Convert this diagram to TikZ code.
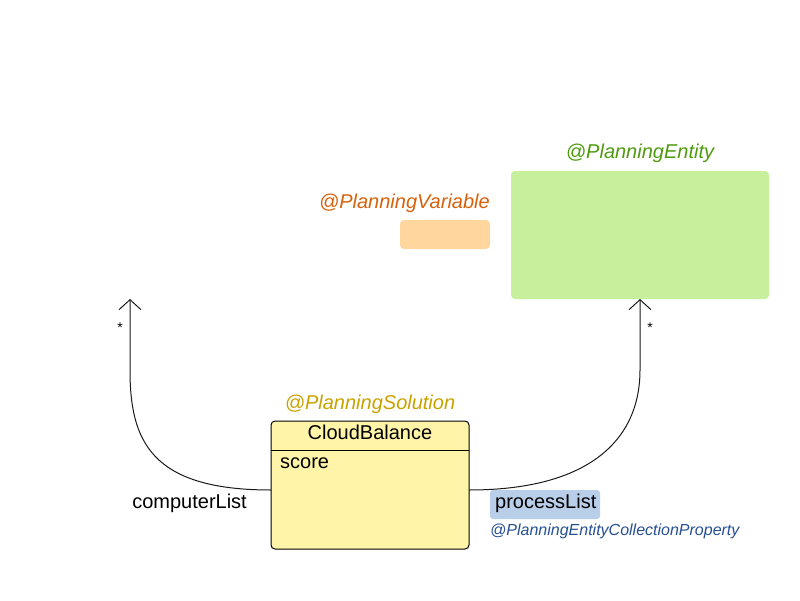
\documentclass[tikz,border=0pt]{standalone}
\usepackage{fontspec}
\setmainfont{Liberation Sans}
\usetikzlibrary{arrows.meta}
\definecolor{solfill}{HTML}{FFF4A8}
\definecolor{entfill}{HTML}{C6F09B}
\definecolor{varfill}{HTML}{FFD79E}
\definecolor{propfill}{HTML}{B9CEE8}
\definecolor{solcol}{HTML}{C9A200}
\definecolor{entcol}{HTML}{4F9A0E}
\definecolor{varcol}{HTML}{D8610B}
\definecolor{propcol}{HTML}{264F94}
\definecolor{linecol}{HTML}{1A1A1A}
\tikzset{
  lbl/.style={inner sep=0pt, font=\fontsize{20}{24}\selectfont},
  annot/.style={inner sep=0pt, font=\fontsize{20}{24}\selectfont\itshape},
  conn/.style={draw=linecol, line width=1pt, -{Straight Barb[length=10pt,width=22pt,line width=1pt]}},
  star/.style={inner sep=0pt, font=\fontsize{14}{16}\selectfont}
}
\begin{document}
\begin{tikzpicture}[x=1pt,y=-1pt]
\useasboundingbox (0,0) rectangle (800,600);
% boxes
\draw[fill=solfill, draw=black, line width=1pt, rounded corners=4pt] (271,421) rectangle (469,549);
\coordinate (solW) at (271,490);
\coordinate (solE) at (469,490);
\draw[black, line width=1pt] (271,450) -- (469,450);
\node[lbl, anchor=base] (cb) at (370,439) {CloudBalance};
\node[lbl, anchor=base west] (score) at (280,468) {score};
\node[annot, text=solcol, anchor=base] (sol) at (370,409) {@PlanningSolution};

\fill[entfill, rounded corners=4pt] (511,171) rectangle (769,299);
\coordinate (entS) at (640,299);
\node[annot, text=entcol, anchor=base] (ent) at (640,158) {@PlanningEntity};

\fill[varfill, rounded corners=4pt] (400,220) rectangle (490,249);
\node[annot, text=varcol, anchor=base east] (var) at (490,208) {@PlanningVariable};

\coordinate (compTip) at (130,299);

% connectors
\draw[conn] (solW) .. controls (150,490) and (130,440) .. (130,370) -- (compTip);
\draw[conn] (solE) .. controls (589,490) and (640,440) .. (640,370) -- (entS);

\node[star] (s1) at (120,328) {*};
\node[star] (s2) at (650,328) {*};

\node[lbl, anchor=base east] (cl) at (247,508) {computerList};
\fill[propfill, rounded corners=3pt] (490,490) rectangle (600,519);
\node[lbl, anchor=base west] (pl) at (495,508) {processList};
\node[inner sep=0pt, font=\fontsize{16}{19}\selectfont\itshape, text=propcol, anchor=base west] (pecp) at (490,535) {@PlanningEntityCollectionProperty};
\end{tikzpicture}
\end{document}
